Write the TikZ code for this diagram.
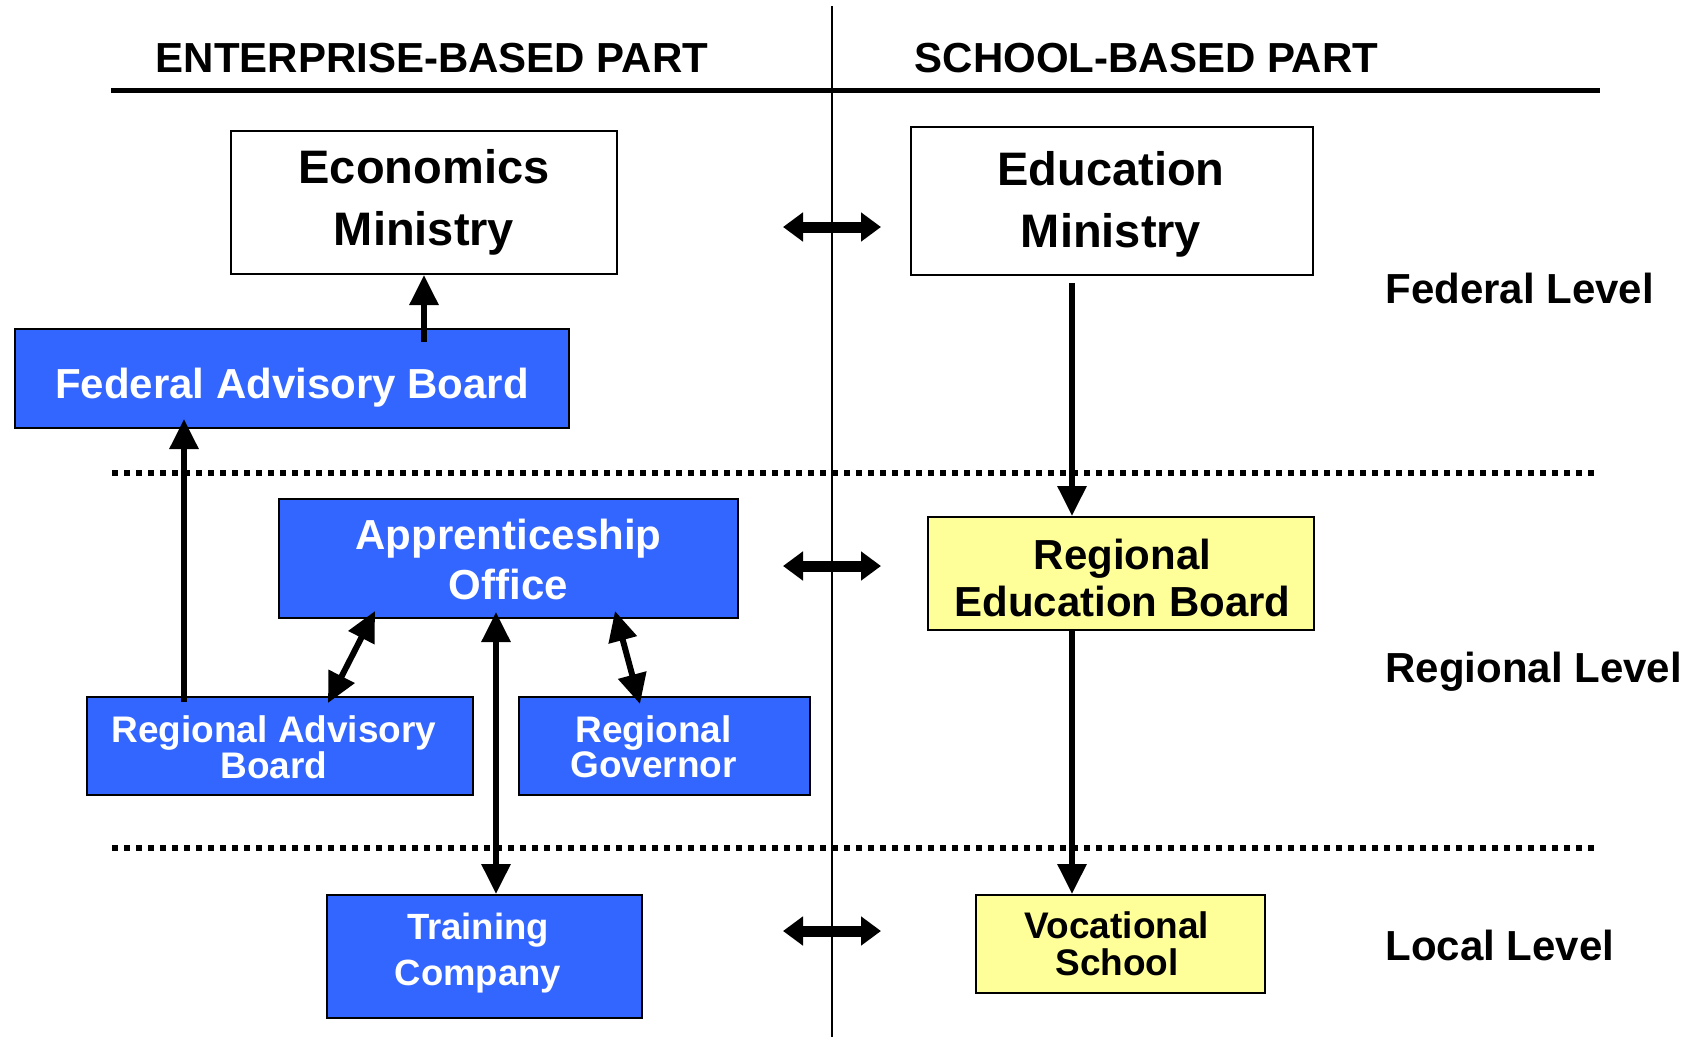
\documentclass[tikz,border=0pt]{standalone}
\usepackage{fontspec}
\setmainfont{Liberation Sans}
\usetikzlibrary{arrows.meta,calc}

\definecolor{boardblue}{RGB}{51,102,255}
\definecolor{schoolyellow}{RGB}{255,255,153}

\begin{document}
\begin{tikzpicture}[x=1pt,y=-1pt,
  box/.style={draw=black, line width=2pt, rectangle, inner sep=0pt},
  bluebox/.style={box, fill=boardblue},
  yellowbox/.style={box, fill=schoolyellow},
  whitebox/.style={box, fill=white},
  boxtext/.style={inner sep=0pt, align=center},
  ontext/.style={boxtext, text=white},
  offtext/.style={boxtext, text=black},
  headtext/.style={font=\bfseries\fontsize{42}{50}\selectfont},
  leveltext/.style={font=\bfseries\fontsize{42}{50}\selectfont, anchor=base west},
  link/.style={line width=6pt, -{Triangle[length=30pt,width=28pt]}},
  bilink/.style={line width=6pt, {Triangle[length=30pt,width=28pt]}-{Triangle[length=30pt,width=28pt]}},
  swaparrow/.style={line width=11pt, {Triangle[length=20pt,width=28pt]}-{Triangle[length=20pt,width=28pt]}},
  rule/.style={line width=5pt},
  divider/.style={line width=2pt},
  levelsep/.style={line width=6pt, dash pattern=on 6pt off 6pt}
]
\useasboundingbox (0,0) rectangle (1695,1037);

% column divider, header rule and level separators
\draw[divider] (832,6) -- (832,1037);
\draw[rule] (111,90.5) -- (1600,90.5);
\draw[levelsep] (112,473) -- (1598,473);
\draw[levelsep] (112,848) -- (1598,848);

% column headings
\node[headtext, anchor=base] (enttitle) at (432,72) {ENTERPRISE-BASED PART};
\node[headtext, anchor=base] (schtitle) at (1146.5,72) {SCHOOL-BASED PART};

% level labels
\node[leveltext] (fedlevel) at (1382,303) {Federal Level};
\node[leveltext] (reglevel) at (1382,682) {Regional Level};
\node[leveltext] (loclevel) at (1382,960) {Local Level};

% federal level
\node[whitebox, minimum width=386, minimum height=143] (em) at (424,202.5) {};
\node[offtext, font=\bfseries\fontsize{47}{62}\selectfont] (emtext) at ($(em)+(0,0)$) {Economics\\Ministry};
\node[whitebox, minimum width=402, minimum height=148] (edm) at (1112,201) {};
\node[offtext, font=\bfseries\fontsize{47}{62}\selectfont] (edmtext) at ($(edm)+(-1,3)$) {Education\\Ministry};
\node[bluebox, minimum width=554, minimum height=99] (fab) at (292,378.5) {};
\node[ontext, font=\bfseries\fontsize{42}{50}\selectfont] (fabtext) at ($(fab)+(0,9)$) {Federal Advisory Board};

% regional level
\node[bluebox, minimum width=459, minimum height=119] (ao) at (508.5,558.5) {};
\node[ontext, font=\bfseries\fontsize{42}{50}\selectfont] (aotext) at ($(ao)+(0,1)$) {Apprenticeship\\Office};
\node[yellowbox, minimum width=386, minimum height=113] (reb) at (1120.5,573.5) {};
\node[offtext, font=\bfseries\fontsize{42}{47}\selectfont] (rebtext) at ($(reb)+(2,4.5)$) {Regional\\Education Board};
\node[bluebox, minimum width=386, minimum height=98] (rab) at (280,746) {};
\node[ontext, font=\bfseries\fontsize{37}{33}\selectfont] (rabtext) at ($(rab)+(-6,1)$) {Regional Advisory\\Board};
\node[bluebox, minimum width=291, minimum height=98] (rg) at (664.5,746) {};
\node[ontext, font=\bfseries\fontsize{37}{33}\selectfont] (rgtext) at ($(rg)+(-11,1)$) {Regional\\Governor};

% local level
\node[bluebox, minimum width=315, minimum height=123] (tc) at (484.5,956.5) {};
\node[ontext, font=\bfseries\fontsize{36.5}{46}\selectfont] (tctext) at ($(tc)+(-6.5,-3)$) {Training\\Company};
\node[yellowbox, minimum width=289, minimum height=98] (vs) at (1120.5,944) {};
\node[offtext, font=\bfseries\fontsize{37}{37}\selectfont] (vstext) at ($(vs)+(-3.5,0)$) {Vocational\\School};

% reporting lines
\draw[link] ($(em.south |- fab.north)+(0,14)$) -- (em.south);
\coordinate (rabup) at ($(rab.north)+(-96,6)$);
\coordinate (fabin) at ($(fab.south)+(0,-10)$);
\draw[link] (rabup) -- (rabup |- fabin);
\coordinate (edmdown) at ($(edm.south)+(-40,7)$);
\draw[link] (edmdown) -- (edmdown |- reb.north);
\coordinate (rebdown) at ($(reb.south)+(-48.5,0)$);
\draw[link] (rebdown) -- (rebdown |- vs.north);
\coordinate (aoin) at ($(ao.south)+(-12.5,-7)$);
\draw[bilink] (aoin) -- (aoin |- tc.north);
\draw[bilink] ($(ao.south)+(-133.5,-8)$) -- ($(rab.north)+(48,7)$);
\draw[bilink] ($(ao.south)+(106.5,-8)$) -- ($(rg.north)+(-24.5,8)$);

% exchange between the two parts at each level
\coordinate (fedL) at (783,227);  \coordinate (fedR) at (881,227);
\coordinate (regL) at (783,566);  \coordinate (regR) at (881,566);
\coordinate (locL) at (783,931);  \coordinate (locR) at (881,931);
\draw[swaparrow] (fedL) -- (fedR);
\draw[swaparrow] (regL) -- (regR);
\draw[swaparrow] (locL) -- (locR);
\end{tikzpicture}
\end{document}
